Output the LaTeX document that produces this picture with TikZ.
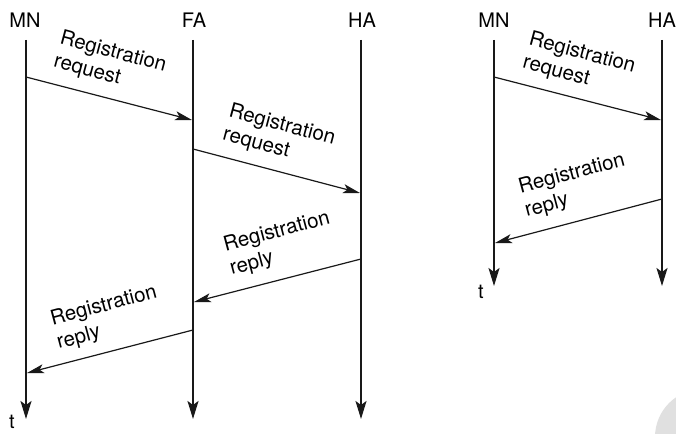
\documentclass[tikz,border=0pt]{standalone}
\usepackage{fontspec}
\setmainfont{TeX Gyre Heros}
\usepackage{tikz}
\usetikzlibrary{arrows.meta, positioning}
\tikzstyle{entity}=[inner sep=0pt, font=\fontsize{20}{24}\selectfont]
\tikzstyle{msglabel}=[inner sep=0pt, align=left, font=\fontsize{20.5}{24}\selectfont]
\tikzstyle{lifeline}=[-{Stealth[length=18pt, width=11pt, inset=4pt]}, line width=1.9pt, color=black!90]
\tikzstyle{msg}=[-{Stealth[length=17pt, width=9pt, inset=4pt]}, line width=1.2pt, color=black!90]

\begin{document}
\begin{tikzpicture}[x=1pt, y=-1pt]
  \clip (0,0) rectangle (676,433);
  \fill[white] (0,0) rectangle (676,433);
  \fill[black!12] (703,437) circle (48);

  % Left: with foreign agent
  \node[entity] (mn) at (25,20) {MN};
  \node[entity] (fa) at (194,20) {FA};
  \node[entity] (ha) at (362,20) {HA};
  \coordinate (mntop) at (26,40);  \coordinate (mnbot) at (26,419);
  \coordinate (fatop) at (193,40); \coordinate (fabot) at (193,419);
  \coordinate (hatop) at (361,40); \coordinate (habot) at (361,419);
  \draw[lifeline] (mntop) -- (mnbot);
  \draw[lifeline] (fatop) -- (fabot);
  \draw[lifeline] (hatop) -- (habot);
  \node[entity] (t) at (12,422) {t};

  % Messages
  \coordinate (m1a) at (26,77);   \coordinate (m1b) at (192,120);
  \coordinate (m2a) at (193,149); \coordinate (m2b) at (360,193);
  \coordinate (m3a) at (361,259); \coordinate (m3b) at (194,302);
  \coordinate (m4a) at (193,330); \coordinate (m4b) at (27,373);
  \draw[msg] (m1a) -- (m1b);
  \draw[msg] (m2a) -- (m2b);
  \draw[msg] (m3a) -- (m3b);
  \draw[msg] (m4a) -- (m4b);
  \node[msglabel, rotate=-15] (req1) at (110,64) {Registration\\request};
  \node[msglabel, rotate=-15] (req2) at (279,137) {Registration\\request};
  \node[msglabel, rotate=15] (rep1) at (280,244) {Registration\\reply};
  \node[msglabel, rotate=15] (rep2) at (107,318) {Registration\\reply};

  % Right: without foreign agent
  \node[entity] (mnr) at (494,20) {MN};
  \node[entity] (har) at (662,20) {HA};
  \coordinate (mnrtop) at (494,40); \coordinate (mnrbot) at (494,286);
  \coordinate (hartop) at (662,40); \coordinate (harbot) at (662,286);
  \draw[lifeline] (mnrtop) -- (mnrbot);
  \draw[lifeline] (hartop) -- (harbot);
  \node[entity] (tr) at (481,292) {t};

  \coordinate (m5a) at (494,77);  \coordinate (m5b) at (661,120);
  \coordinate (m6a) at (662,199); \coordinate (m6b) at (495,243);
  \draw[msg] (m5a) -- (m5b);
  \draw[msg] (m6a) -- (m6b);
  \node[msglabel, rotate=-15] (req3) at (579,65) {Registration\\request};
  \node[msglabel, rotate=15] (rep3) at (575,186) {Registration\\reply};
\end{tikzpicture}
\end{document}
